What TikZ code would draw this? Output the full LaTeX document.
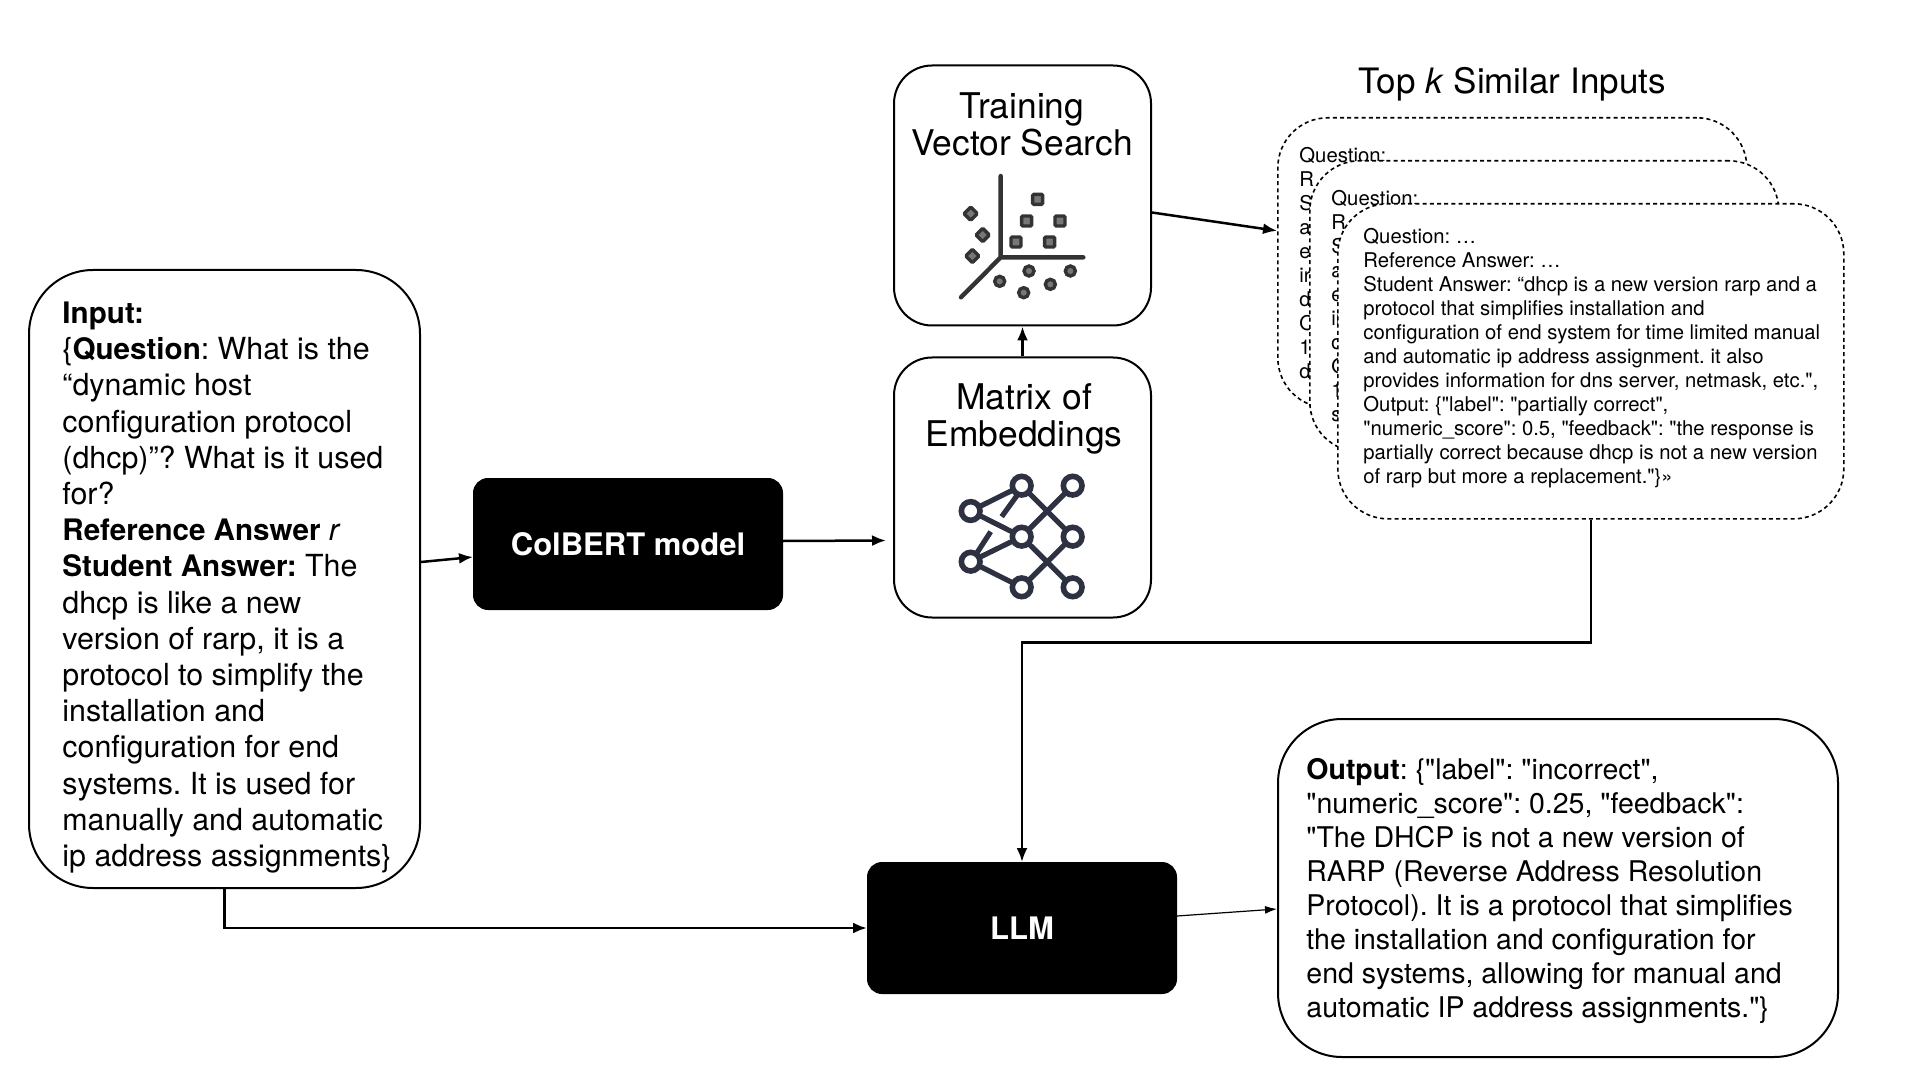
\documentclass[tikz,border=0pt]{standalone}
\usepackage{fontspec}
\setmainfont{TeX Gyre Heros}[Ligatures=TeXOff]
\usetikzlibrary{arrows.meta}
\definecolor{icondark}{HTML}{333333}
\definecolor{icongrey}{HTML}{777777}
\definecolor{netdark}{HTML}{2D3142}
\newcommand{\bodybold}[1]{{\fontsize{14.8}{18.1}\selectfont\bfseries #1}}
\tikzset{
  box/.style={draw=black,line width=1pt,fill=white,inner sep=0pt,anchor=north west},
  roundbox/.style={box,rounded corners=32pt},
  iconbox/.style={box,rounded corners=19pt,minimum width=128.5pt,minimum height=130pt},
  dashbox/.style={box,rounded corners=25pt,dash pattern=on 2pt off 1.6pt,line width=0.8pt},
  blackbox/.style={box,fill=black,rounded corners=7pt,text=white,font=\fontsize{15.5}{18}\selectfont\bfseries,anchor=center},
  bodytext/.style={anchor=north west,align=left,inner sep=0pt,font=\fontsize{15.2}{18.1}\selectfont},
  outtext/.style={anchor=north west,align=left,inner sep=0pt,font=\fontsize{14.25}{17.05}\selectfont},
  smalltext/.style={anchor=north west,align=left,inner sep=0pt,font=\fontsize{10.15}{12}\selectfont},
  icontitle/.style={anchor=north,align=center,inner sep=0pt,font=\fontsize{17.7}{18.4}\selectfont},
  conn/.style={line width=1.25pt,-{Latex[length=7pt,width=5.5pt]}},
  thinconn/.style={line width=0.6pt,-{Latex[length=6pt,width=4pt]}},
}
\frenchspacing
\begin{document}
\begin{tikzpicture}[x=0.5pt,y=-0.5pt]
\useasboundingbox[fill=white] (0,0) rectangle (1920,1080);

% input
\node[roundbox,minimum width=195.5pt,minimum height=309pt] (input) at (28,269) {};
\node[bodytext] (inputtext) at (62,301.5) {\bodybold{Input:}\\
\{\bodybold{Question}: What is the\\
“dynamic host\\
configuration protocol\\
(dhcp)”? What is it used\\
for?\\
\bodybold{Reference Answer} \textit{r}\\
\bodybold{Student Answer:} The\\
dhcp is like a new\\
version of rarp, it is a\\
protocol to simplify the\\
installation and\\
configuration for end\\
systems. It is used for\\
manually and automatic\\
ip address assignments\}};

% black boxes
\node[blackbox,minimum width=154pt,minimum height=65pt] (colbert) at (628,544) {ColBERT model};
\node[blackbox,minimum width=154pt,minimum height=65pt] (llm) at (1022,928) {LLM};

% icon boxes
\node[iconbox] (training) at (893,64.5) {};
\node[icontitle] (trainingtitle) at (1022,92.5) {Training\\Vector Search};
\node[iconbox] (matrix) at (893,356.5) {};
\node[icontitle] (matrixtitle) at (1024,383.5) {Matrix of\\Embeddings};

% scatter icon
\begin{scope}[shift={(880,50)},x=0.16667pt,y=-0.16667pt]
  \draw[icondark,line width=2.2pt,line cap=round,line join=round] (362,378)--(362,622)--(610,622) (362,622)--(243,742);
  \foreach \p in {(473,448),(440,513),(540,513),(408,576),(509,576)}
    \draw[icondark,fill=icongrey,line width=1.7pt,rounded corners=0.6pt] \p ++(-15,-15) rectangle ++(30,30);
  \foreach \p in {(272,491),(308,555),(277,618)}
    \draw[icondark,fill=icongrey,line width=1.7pt,rounded corners=0.6pt] \p ++(-20,0)--++(20,-20)--++(20,20)--++(-20,20)--cycle;
  \foreach \p in {(447,663),(359,694),(511,703),(431,728),(571,663)}
    \draw[icondark,fill=icongrey,line width=1.7pt] \p circle[radius=15];
\end{scope}

% network icon
\begin{scope}[shift={(880,340)},x=0.16667pt,y=-0.16667pt]
  \draw[netdark,line width=2.6pt]
    (272,513)--(425,437) (272,513)--(425,590)
    (272,665)--(425,590) (272,665)--(425,742)
    (425,437)--(578,590) (578,437)--(425,590)
    (425,590)--(578,742) (578,590)--(425,742)
    (412,465)--(365,530) (332,575)--(290,640);
  \foreach \p in {(272,513),(272,665),(425,437),(425,590),(425,742),(578,437),(578,590),(578,742)}
    \draw[netdark,fill=white,line width=2.8pt] \p circle[radius=28];
\end{scope}

% stacked inputs
\node[anchor=west,inner sep=0pt,font=\fontsize{17.5}{20}\selectfont] (toptitle) at (1358,84.5) {Top \textit{k} Similar Inputs};
\node[dashbox,minimum width=234.5pt,minimum height=145pt] (stacka) at (1277,117) {};
\node[smalltext] (stackatext) at (1299,147) {Question:\\R\\S\\a\\e\\ir\\d\\O\\1\\d};
\node[dashbox,minimum width=234.5pt,minimum height=145.5pt] (stackb) at (1309,160) {};
\node[smalltext] (stackbtext) at (1331,190) {Question:\\R\\S\\a\\e\\ii\\d\\O\\1\\s};
\node[dashbox,minimum width=253pt,minimum height=157.5pt] (stackc) at (1337,203) {};
\node[smalltext] (stackctext) at (1363,227.5) {Question: …\\
Reference Answer: …\\
Student Answer: “dhcp is a new version rarp and a\\
protocol that simplifies installation and\\
configuration of end system for time limited manual\\
and automatic ip address assignment. it also\\
provides information for dns server, netmask, etc.",\\
Output: \{"label": "partially correct",\\
"numeric\_score": 0.5, "feedback": "the response is\\
partially correct because dhcp is not a new version\\
of rarp but more a replacement."\}»};

% output
\node[roundbox,minimum width=280pt,minimum height=169pt] (output) at (1277,718) {};
\node[outtext] (outputtext) at (1306,757.5) {\textbf{Output}: \{"label": "incorrect",\\
"numeric\_score": 0.25, "feedback":\\
"The DHCP is not a new version of\\
RARP (Reverse Address Resolution\\
Protocol). It is a protocol that simplifies\\
the installation and configuration for\\
end systems, allowing for manual and\\
automatic IP address assignments."\}};

% connectors
\draw[conn] ([yshift=8.5pt]input.east) -- ([yshift=-6.5pt]colbert.west);
\draw[conn] ([yshift=1.5pt]colbert.east) -- ([xshift=-3.5pt,yshift=-26.5pt]matrix.west);
\draw[conn] (matrix.north) -- (training.south);
\draw[conn] ([yshift=-8.5pt]training.east) -- ([yshift=16pt]stacka.west);
\draw[conn] (stackc.south) -- ++(0,123) -| (llm.north);
\draw[conn] (input.south) |- (llm.west);
\draw[thinconn] ([yshift=6pt]llm.east) -- ([yshift=-10.5pt]output.west);
\end{tikzpicture}
\end{document}
